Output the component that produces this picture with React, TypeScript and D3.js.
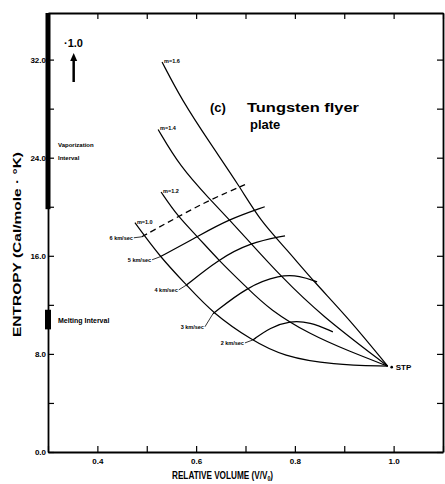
import React, { useEffect, useRef } from "react";
import * as d3 from "d3";

// axis ticks
const xTickValues = [0.3, 0.4, 0.5, 0.6, 0.7, 0.8, 0.9, 1.0, 1.1];
const xTickLabels = [0.4, 0.6, 0.8, 1.0];
const yTickValues = [0, 4, 8, 12, 16, 20, 24, 28, 32];
const yTickLabels = [0, 8, 16, 24, 32];

// constant m curves (relative volume, entropy), all ending at STP
const m16 = [[0.531, 31.8], [0.571, 28.7], [0.628, 25.2], [0.689, 21.6], [0.729, 18.9], [0.784, 16.5], [0.836, 14.0], [0.911, 10.8], [0.988, 7.0]];
const m14 = [[0.523, 26.3], [0.567, 23.3], [0.628, 20.6], [0.668, 18.9], [0.709, 17.1], [0.77, 14.4], [0.851, 11.2], [0.988, 7.0]];
const m12 = [[0.529, 21.2], [0.563, 19.2], [0.602, 17.6], [0.644, 15.7], [0.703, 13.4], [0.749, 11.6], [0.83, 9.6], [0.911, 8.2], [0.988, 7.0]];
const m10 = [[0.476, 18.7], [0.527, 15.9], [0.581, 13.6], [0.634, 11.3], [0.713, 9.1], [0.776, 7.8], [0.877, 7.1], [0.988, 7.0]];
const mLabels = ["m=1.6", "m=1.4", "m=1.2", "m=1.0"];

// constant flyer velocity curves
const v6 = [[0.49, 17.55], [0.563, 19.18], [0.628, 20.57], [0.699, 21.8]];
const v5 = [[0.527, 15.92], [0.602, 17.55], [0.664, 18.94], [0.739, 20.0]];
const v4 = [[0.581, 13.63], [0.644, 15.67], [0.709, 17.06], [0.78, 17.63]];
const v3 = [[0.634, 11.27], [0.703, 13.47], [0.77, 14.45], [0.81, 14.37], [0.845, 13.88]];
const v2 = [[0.715, 9.14], [0.75, 10.15], [0.79, 10.7], [0.83, 10.6], [0.877, 9.8]];
const vLabels = ["6 km/sec", "5 km/sec", "4 km/sec", "3 km/sec", "2 km/sec"];

const stp = [0.988, 7.0];
const vaporization = [19.8, 36];
const melting = [10.0, 11.6];

const W = 445, H = 484;

export default function App() {
  const ref = useRef<SVGSVGElement>(null);

  useEffect(() => {
    const svg = d3.select(ref.current);
    svg.selectAll("*").remove();
    const font = "'Liberation Sans', Arial, sans-serif";

    const x = d3.scaleLinear().domain([0.3, 1.1]).range([48, 443]);
    const y = d3.scaleLinear().domain([0, 35.8]).range([452, 13]);

    svg.append("rect").attr("width", W).attr("height", H).attr("fill", "#fff");

    const fmt = d3.format(".1f");
    const styleAxis = (g: any) => {
      g.select(".domain").attr("stroke", "#000").attr("stroke-width", 1.8);
      g.selectAll(".tick line").attr("stroke", "#000").attr("stroke-width", 1.2);
      g.selectAll("text").attr("font-family", font).attr("font-weight", "bold").attr("font-size", 8).attr("fill", "#000");
    };

    svg.append("g").attr("transform", `translate(0,${y(0)})`)
      .call(d3.axisBottom(x).tickValues(xTickValues).tickSize(-6).tickSizeOuter(0).tickPadding(6)
        .tickFormat((d: any) => (xTickLabels.includes(d) ? fmt(d) : "")))
      .call(styleAxis);
    svg.append("g").attr("transform", `translate(0,${y(35.8)})`)
      .call(d3.axisTop(x).tickValues(xTickValues).tickSize(-6).tickSizeOuter(0).tickFormat(() => ""))
      .call(styleAxis);
    svg.append("g").attr("transform", `translate(${x(0.3)},0)`)
      .call(d3.axisLeft(y).tickValues(yTickValues).tickSize(-6).tickSizeOuter(0).tickPadding(2)
        .tickFormat((d: any) => (yTickLabels.includes(d) ? fmt(d) : "")))
      .call(styleAxis);
    svg.append("g").attr("transform", `translate(${x(1.1)},0)`)
      .call(d3.axisRight(y).tickValues(yTickValues).tickSize(-6).tickSizeOuter(0).tickFormat(() => ""))
      .call(styleAxis);

    // vaporization and melting intervals on the entropy axis
    const vapTop = Math.min(vaporization[1], 35.8);
    svg.append("rect").attr("x", x(0.3) - 2.5).attr("width", 5)
      .attr("y", y(vapTop)).attr("height", y(vaporization[0]) - y(vapTop))
      .attr("fill", "#000");
    svg.append("rect").attr("x", x(0.3) - 3).attr("width", 6)
      .attr("y", y(melting[1])).attr("height", y(melting[0]) - y(melting[1]))
      .attr("fill", "#000");

    const small = (t: any) => t.attr("font-family", font).attr("font-weight", "bold").attr("fill", "#000");
    svg.append("text").attr("x", 58).attr("y", y(24.9)).attr("font-size", 6).call(small).text("Vaporization");
    svg.append("text").attr("x", 58).attr("y", y(23.8)).attr("font-size", 6).call(small).text("Interval");
    svg.append("text").attr("x", 58).attr("y", y(10.5)).attr("font-size", 7).call(small).text("Melting Interval");

    const line = d3.line<number[]>().x((d) => x(d[0])).y((d) => y(d[1])).curve(d3.curveBasis);

    [m16, m14, m12, m10].forEach((pts, i) => {
      svg.append("path").attr("d", line(pts as any)).attr("fill", "none").attr("stroke", "#000").attr("stroke-width", 1.2);
      svg.append("text").attr("x", x(pts[0][0]) + 2).attr("y", y(pts[0][1]) + 1)
        .attr("font-size", 5.5).call(small).text(mLabels[i]);
    });

    const labelDy = [3, 5, 7, 15, 5];
    [v6, v5, v4, v3, v2].forEach((pts, i) => {
      svg.append("path").attr("d", line(pts as any)).attr("fill", "none").attr("stroke", "#000")
        .attr("stroke-width", 1.3).attr("stroke-dasharray", i === 0 ? "6,4" : null);
      const x0 = x(pts[0][0]), y0 = y(pts[0][1]);
      svg.append("line").attr("x1", x0 - 8).attr("y1", y0 + labelDy[i] - 2).attr("x2", x0).attr("y2", y0)
        .attr("stroke", "#000").attr("stroke-width", 0.8);
      svg.append("text").attr("x", x0 - 9).attr("y", y0 + labelDy[i]).attr("text-anchor", "end")
        .attr("font-size", 5.5).call(small).text(vLabels[i]);
    });

    // STP point
    svg.append("circle").attr("cx", x(stp[0]) + 4).attr("cy", y(stp[1]) + 1).attr("r", 1.3).attr("fill", "#000");
    svg.append("text").attr("x", x(stp[0]) + 8).attr("y", y(stp[1]) + 4).attr("font-size", 8).call(small).text("STP");

    // off-scale marker
    svg.append("text").attr("x", 64).attr("y", 47).attr("font-size", 11).call(small).text("·1.0");
    svg.append("line").attr("x1", x(0.352)).attr("x2", x(0.352)).attr("y1", 82).attr("y2", 58)
      .attr("stroke", "#000").attr("stroke-width", 2.5);
    svg.append("path").attr("d", `M${x(0.352) - 3.5},61 L${x(0.352)},53 L${x(0.352) + 3.5},61 Z`).attr("fill", "#000");

    // title
    svg.append("text").attr("x", 210).attr("y", 112).attr("font-size", 13).call(small).text("(c)");
    svg.append("text").attr("x", 247).attr("y", 112).attr("font-size", 13).call(small)
      .attr("textLength", 112).attr("lengthAdjust", "spacingAndGlyphs").text("Tungsten flyer");
    svg.append("text").attr("x", 250).attr("y", 129).attr("font-size", 13).call(small).text("plate");

    // axis titles
    const xt = svg.append("g").attr("transform", "translate(172,479) scale(0.82,1.1)")
      .append("text").attr("font-size", 10).call(small);
    xt.append("tspan").text("RELATIVE VOLUME (V/V");
    xt.append("tspan").attr("font-size", 6.5).attr("dy", 2).text("0");
    xt.append("tspan").attr("dy", -2).text(")");

    svg.append("text").attr("transform", `translate(21,${(152 + 337) / 2}) rotate(-90)`)
      .attr("text-anchor", "middle").attr("font-size", 11).call(small)
      .attr("textLength", 185).attr("lengthAdjust", "spacingAndGlyphs")
      .text("ENTROPY (Cal/mole · °K)");
  }, []);

  return <svg ref={ref} width={W} height={H} style={{ position: "absolute", left: 0, top: 0 }} />;
}
